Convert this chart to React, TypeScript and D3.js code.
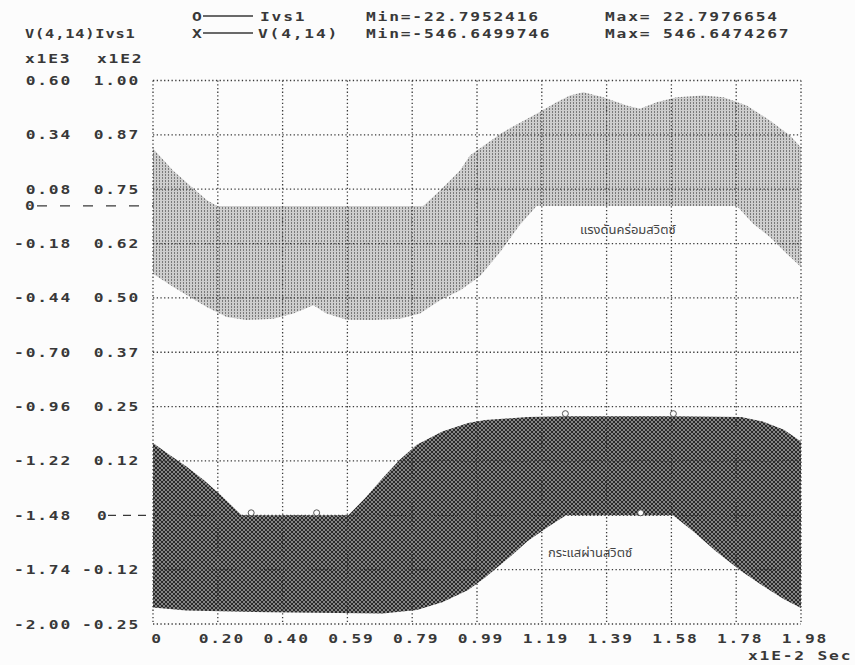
import React from "react";
import * as d3 from "d3";

// Switch voltage V(4,14) envelope (volts) vs time (ms)
const voltHighTime = [0, 0.61, 1.13, 1.65, 1.96, 8.26, 8.77, 9.38, 9.69, 10.69, 11.72, 12.33, 12.74, 13.15, 13.76, 14.47, 14.88, 15.39, 16.0, 16.81, 17.43, 18.14, 18.85, 19.46, 19.8];
const voltHighValue = [275, 170, 98, 27, 0, 0, 74, 170, 242, 353, 441, 496, 528, 544, 520, 480, 465, 496, 520, 528, 520, 480, 409, 337, 280];
const voltLowTime = [0, 0.62, 1.13, 1.64, 2.25, 2.86, 3.68, 4.29, 4.9, 5.3, 5.92, 6.73, 7.55, 8.16, 8.77, 9.38, 9.99, 10.6, 11.2, 11.72, 17.84, 18.34, 18.85, 19.36, 19.8];
const voltLowValue = [-324, -388, -436, -483, -531, -546, -540, -515, -475, -515, -545, -546, -540, -515, -451, -404, -337, -222, -93, 0, 0, -85, -149, -228, -292];

// Switch current Ivs1 envelope (amperes) vs time (ms)
const currHighTime = [0, 0.5, 1.02, 1.54, 2.06, 2.71, 5.97, 6.5, 7.02, 7.54, 8.06, 8.84, 9.63, 10.15, 11.45, 12.6, 15.9, 17.97, 18.63, 19.28, 19.8];
const currHighValue = [16.6, 13.9, 11.2, 8.2, 4.7, 0, 0, 4.1, 8.6, 12.8, 16.2, 19.3, 21.2, 21.9, 22.6, 22.8, 22.8, 22.6, 21.6, 19.7, 17.0];
const currLowTime = [0, 1.02, 3.63, 7.02, 8.06, 8.84, 9.63, 10.15, 10.93, 11.45, 12.1, 12.62, 15.89, 16.54, 17.19, 17.97, 18.63, 19.28, 19.8];
const currLowValue = [-21.2, -21.9, -22.3, -22.6, -21.8, -20.0, -17.2, -14.3, -9.4, -5.9, -2.5, 0, 0, -3.9, -8.2, -12.8, -16.2, -19.3, -21.3];

// "O" symbols of the Ivs1 trace
const markerTime = [3.0, 5.0, 12.6, 14.9, 15.9];
const markerValue = [0, 0, 22.8, 0, 22.8];

// Axis labels
const timeTickLabels = ["0", "0.20", "0.40", "0.59", "0.79", "0.99", "1.19", "1.39", "1.58", "1.78", "1.98"];
const voltTickLabels = ["0.60", "0.34", "0.08", "-0.18", "-0.44", "-0.70", "-0.96", "-1.22", "-1.48", "-1.74", "-2.00"];
const currTickLabels = ["1.00", "0.87", "0.75", "0.62", "0.50", "0.37", "0.25", "0.12", "", "-0.12", "-0.25"];

const W = 855;
const H = 665;
const L = 153;
const R = 801;
const T = 80.5;
const B = 624;
const INK = "#383838";

const x = d3.scaleLinear().domain([0, 19.8]).range([L, R]);
const yV = d3.scaleLinear().domain([-2000, 600]).range([B, T]);
const yI = d3.scaleLinear().domain([-25, 100]).range([B, T]);

function bandPath(hiT: number[], hiV: number[], loT: number[], loV: number[], y: d3.ScaleLinear<number, number>) {
  const pts: [number, number][] = [
    ...hiT.map((t, i) => [x(t), y(hiV[i])] as [number, number]),
    ...loT.map((t, i) => [x(t), y(loV[i])] as [number, number]).reverse(),
  ];
  return (d3.line()(pts) || "") + "Z";
}

function Txt({
  x: tx,
  y: ty,
  anchor = "start",
  sx = 1.25,
  ls = 1.45,
  children,
}: {
  x: number;
  y: number;
  anchor?: string;
  sx?: number;
  ls?: number;
  children: React.ReactNode;
}) {
  return (
    <text
      transform={`translate(${tx},${ty}) scale(${sx},1)`}
      textAnchor={anchor}
      fontFamily="'DejaVu Sans Mono', monospace"
      fontSize={13}
      fontWeight="bold"
      letterSpacing={ls}
      fill={INK}
    >
      {children}
    </text>
  );
}

export default function App() {
  const xTicks = d3.range(11).map((k) => (k * 19.8) / 10);
  const vTicks = d3.range(11).map((k) => 600 - k * 260);
  const dot = { stroke: "#3a3a3a", strokeWidth: 1.3, strokeDasharray: "1.3 2.4", fill: "none" };

  return (
    <svg width={W} height={H} style={{ position: "absolute", left: 0, top: 0, background: "#fcfcfc" }}>
      <defs>
        <pattern id="voltFill" width="3" height="3" patternUnits="userSpaceOnUse">
          <rect width="3" height="3" fill="#cdcdcd" />
          <rect x="0" y="0" width="1" height="2" fill="#7a7a7a" />
        </pattern>
        <pattern id="currFill" width="4" height="4" patternUnits="userSpaceOnUse">
          <rect width="4" height="4" fill="#858585" />
          <path d="M0,0 L4,4 M4,0 L0,4" stroke="#2a2a2a" strokeWidth="1" />
        </pattern>
      </defs>

      {/* header */}
      <Txt x={192} y={20.5}>O</Txt>
      <line x1={203} x2={253} y1={16} y2={16} stroke={INK} strokeWidth={1.4} />
      <Txt x={260} y={20.5}>Ivs1</Txt>
      <Txt x={366} y={20.5}>Min=-22.7952416</Txt>
      <Txt x={605} y={20.5}>Max= 22.7976654</Txt>

      <Txt x={25} y={37.5} sx={1.18} ls={0.7}>V(4,14)Ivs1</Txt>
      <Txt x={192} y={37.5}>X</Txt>
      <line x1={203} x2={253} y1={33} y2={33} stroke={INK} strokeWidth={1.4} />
      <Txt x={258} y={37.5}>V(4,14)</Txt>
      <Txt x={366} y={37.5}>Min=-546.6499746</Txt>
      <Txt x={605} y={37.5}>Max= 546.6474267</Txt>

      <Txt x={25} y={62.5}>x1E3</Txt>
      <Txt x={97} y={62.5}>x1E2</Txt>

      {/* envelopes */}
      <path d={bandPath(voltHighTime, voltHighValue, voltLowTime, voltLowValue, yV)} fill="url(#voltFill)" />
      <path d={bandPath(currHighTime, currHighValue, currLowTime, currLowValue, yI)} fill="url(#currFill)" />

      {/* grid */}
      {xTicks.map((t, i) => (
        <line key={`gx${i}`} x1={x(t)} x2={x(t)} y1={T} y2={B} {...dot} />
      ))}
      {vTicks.map((v, i) => (
        <line key={`gy${i}`} x1={L} x2={R} y1={yV(v)} y2={yV(v)} {...dot} />
      ))}

      {/* markers */}
      {markerTime.map((t, i) => (
        <circle key={`m${i}`} cx={x(t)} cy={yI(markerValue[i]) - 2.5} r={3} fill="#fcfcfc" stroke="#555" strokeWidth={1} />
      ))}

      {/* left/right axis labels */}
      {vTicks.map((v, i) => (
        <Txt key={`lv${i}`} x={72} y={yV(v) + 4.5} anchor="end">{voltTickLabels[i]}</Txt>
      ))}
      {vTicks.map((v, i) =>
        currTickLabels[i] ? (
          <Txt key={`li${i}`} x={140} y={yV(v) + 4.5} anchor="end">{currTickLabels[i]}</Txt>
        ) : null
      )}

      {/* zero markers */}
      <Txt x={25} y={yV(0) + 4.5}>0</Txt>
      <line x1={37} x2={153} y1={yV(0)} y2={yV(0)} stroke={INK} strokeWidth={1.3} strokeDasharray="10 13" />
      <Txt x={97} y={yI(0) + 4.5}>0</Txt>
      <line x1={108} x2={151} y1={yI(0)} y2={yI(0)} stroke={INK} strokeWidth={1.3} strokeDasharray="8 7" />

      {/* time axis */}
      {xTicks.map((t, i) => (
        <Txt key={`tx${i}`} x={x(t) + 4} y={642.5} anchor="middle">{timeTickLabels[i]}</Txt>
      ))}
      <Txt x={748} y={659.5}>x1E-2 Sec</Txt>

      {/* captions */}
      <text x={580} y={234} fontFamily="'Noto Sans Thai', Tahoma, sans-serif" fontSize={13} fill="#444">แรงดันคร่อมสวิตซ์</text>
      <text x={548} y={557} fontFamily="'Noto Sans Thai', Tahoma, sans-serif" fontSize={13} fill="#444">กระแสผ่านสวิตซ์</text>
    </svg>
  );
}
